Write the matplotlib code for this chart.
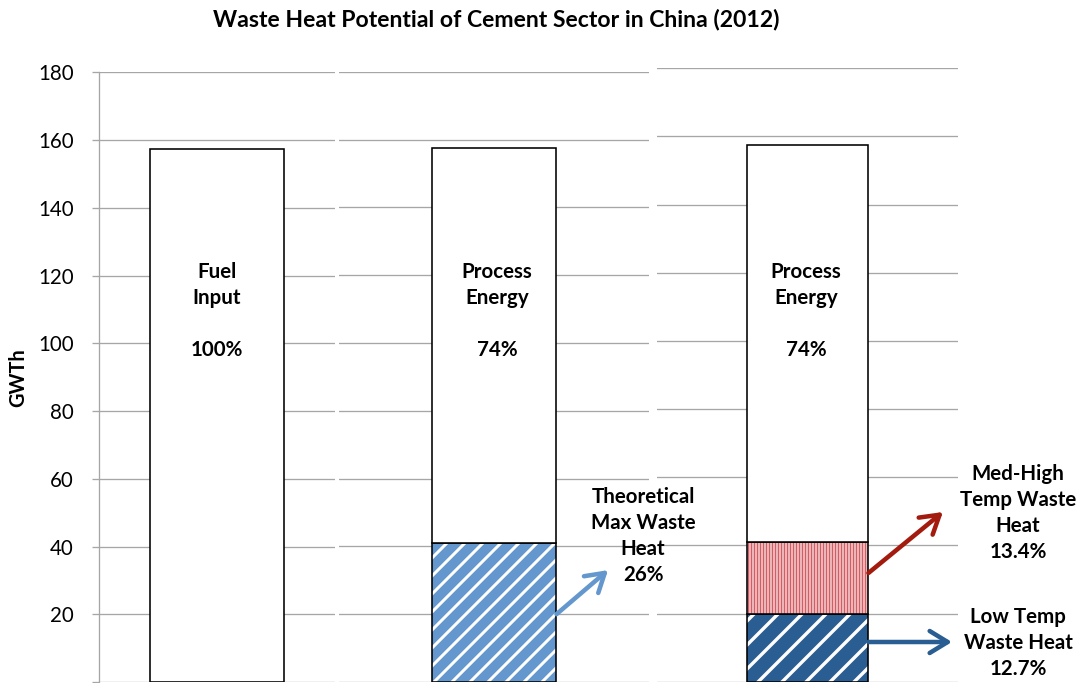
import matplotlib
matplotlib.use("Agg")
from matplotlib import pyplot as plt
from matplotlib.backend_bases import GraphicsContextBase

# values (GWTh)
fuel_input = 157.5
theoretical_waste = 41.0
low_temp_waste = 20.0
med_high_waste = 21.1
process_energy = fuel_input - theoretical_waste

y_ticks = [20, 40, 60, 80, 100, 120, 140, 160, 180]
title = "Waste Heat Potential of Cement Sector in China (2012)"

plt.rcParams['font.family'] = ['Lato', 'DejaVu Sans']
plt.rcParams['hatch.linewidth'] = 2.5

# finer hatch density steps than the default 6 lines per symbol
GraphicsContextBase.get_hatch_path.__defaults__ = (2.75,)

W, H = 1080, 683
DPI = 72
fig = plt.figure(figsize=(W / DPI, H / DPI), dpi=DPI)

grid_c = '#a6a6a6'
light_blue = '#6497cd'
dark_blue = '#2a5d91'
red_line = '#d65c63'
dark_red = '#a31b0e'


def px_axes(left, right, y0, y180):
    # y0 / y180 are pixel rows (from top) of the 0 and 180 gridlines
    ax = fig.add_axes([left / W, 1 - y0 / H, (right - left) / W, (y0 - y180) / H])
    ax.set_xlim(-0.5, 0.5)
    ax.set_ylim(0, 180)
    ax.set_yticks([0] + y_ticks)
    ax.set_xticks([])
    for s in ax.spines.values():
        s.set_visible(False)
    ax.yaxis.grid(True, color=grid_c, linewidth=1.3)
    ax.set_axisbelow(True)
    ax.patch.set_alpha(0)
    return ax


def hatched(ax, width, height, bottom, face, hcolor, hatch, hlw=2.5):
    with plt.rc_context({'hatch.linewidth': hlw}):
        b = ax.bar(0, height, width, bottom=bottom, color=face, edgecolor=hcolor,
                   hatch=hatch, linewidth=0)[0]
    if hasattr(b, 'set_hatch_linewidth'):
        b.set_hatch_linewidth(hlw)
    ax.bar(0, height, width, bottom=bottom, fill=False, edgecolor='black', linewidth=1.6)


arrow_kw = dict(arrowstyle='->,head_length=0.9,head_width=0.55', lw=4.5,
                mutation_scale=20, shrinkA=0, shrinkB=0)

# panel 1
ax1 = px_axes(99, 335, 682, 72.3)
ax1.spines['left'].set_visible(True)
ax1.spines['left'].set_color(grid_c)
ax1.spines['left'].set_linewidth(1.3)
ax1.set_yticks(y_ticks + [0])
ax1.set_yticklabels([str(t) for t in y_ticks] + [''])
ax1.tick_params(axis='y', length=7, color=grid_c, width=1.3, pad=18, labelsize=20.5)
w1 = 0.568
ax1.bar(0, fuel_input, w1, color='white', edgecolor='black', linewidth=1.6)

# panel 2
ax2 = px_axes(339, 649, 682, 71.7)
ax2.tick_params(axis='y', length=0, labelleft=False)
w2 = 0.403
hatched(ax2, w2, theoretical_waste, 0, light_blue, 'white', '////', 3.0)
ax2.bar(0, process_energy, w2, bottom=theoretical_waste, color='white',
        edgecolor='black', linewidth=1.6)
ax2.annotate('', xy=(0.368, 33.0), xytext=(w2 / 2, 20.0),
             arrowprops=dict(color=light_blue, **arrow_kw), annotation_clip=False)

# panel 3
ax3 = px_axes(657, 958, 681.7, 68.3)
ax3.tick_params(axis='y', length=0, labelleft=False)
w3 = 0.405
hatched(ax3, w3, low_temp_waste, 0, dark_blue, 'white', '///', 3.4)
hatched(ax3, w3, med_high_waste, low_temp_waste, 'white', red_line, '|' * 12, 1.9)
ax3.bar(0, process_energy, w3, bottom=low_temp_waste + med_high_waste, color='white',
        edgecolor='black', linewidth=1.6)
ax3.annotate('', xy=(0.450, 49.8), xytext=(w3 / 2, 31.9),
             arrowprops=dict(color=dark_red, **arrow_kw), annotation_clip=False)
ax3.annotate('', xy=(0.480, 11.65), xytext=(w3 / 2, 11.65),
             arrowprops=dict(color=dark_blue, **arrow_kw), annotation_clip=False)


def ftext(x, y, s, size=20.5, **kw):
    fig.text(x / W, 1 - y / H, s, ha='center', va='center', fontweight='bold',
             fontsize=size, linespacing=1.36, **kw)


ftext(496, 19, title, size=23)
ftext(18, 378, "GWTh", size=20, rotation=90)
ftext(217, 311, "Fuel\nInput\n\n100%")
ftext(497, 311, "Process\nEnergy\n\n74%")
ftext(806, 311, "Process\nEnergy\n\n74%")
ftext(643, 536, "Theoretical\nMax Waste\nHeat\n26%")
ftext(1018, 513, "Med-High\nTemp Waste\nHeat\n13.4%")
ftext(1018, 643, "Low Temp\nWaste Heat\n12.7%")

fig.savefig("out.png", dpi=DPI)
